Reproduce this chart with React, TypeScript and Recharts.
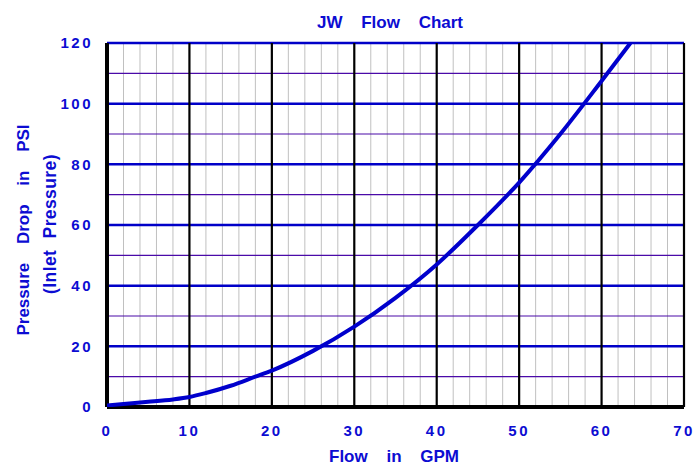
import React from "react";
import { LineChart, Line, XAxis, YAxis, ReferenceLine } from "recharts";

const flowGpm = [0, 2, 5, 8, 10, 12, 15, 18, 20, 25, 30, 35, 40, 45, 50, 55, 60, 63.5];
const pressurePsi = [0.5, 1.0, 1.7, 2.5, 3.3, 4.6, 7.0, 10, 12, 18.5, 26.5, 36, 47, 60, 74, 90, 107.5, 120];

const xTicks = [0, 10, 20, 30, 40, 50, 60, 70];
const yTicks = [0, 20, 40, 60, 80, 100, 120];
const minorX = [2, 4, 6, 8, 12, 14, 16, 18, 22, 24, 26, 28, 32, 34, 36, 38, 42, 44, 46, 48, 52, 54, 56, 58, 62, 64, 66, 68];
const minorY = [10, 30, 50, 70, 90, 110];
const majorX = [10, 20, 30, 40, 50, 60, 70];
const majorY = [20, 40, 60, 80, 100, 120];

const title = "JW Flow Chart";
const xTitle = "Flow in GPM";
const yTitle1 = "Pressure Drop in PSI";
const yTitle2 = "(Inlet Pressure)";

const data = flowGpm.map((x, i) => ({ x, y: pressurePsi[i] }));

const FONT = '"Liberation Sans", Arial, sans-serif';
const BLUE = "#0c0cd2";

const tickStyle = {
  fill: BLUE,
  fontFamily: FONT,
  fontWeight: 700,
  fontSize: 15,
  letterSpacing: 2.5,
};

export default function App() {
  return (
    <div style={{ position: "absolute", left: 0, top: 0, width: 700, height: 466, background: "#fff" }}>
      <LineChart
        width={700}
        height={466}
        data={data}
        margin={{ top: 43, right: 16, bottom: 29, left: 47 }}
      >
        <XAxis
          dataKey="x"
          type="number"
          domain={[0, 70]}
          ticks={xTicks}
          axisLine={false}
          tickLine={false}
          tickSize={0}
          tickMargin={18}
          height={30}
          tick={tickStyle}
          allowDataOverflow
        />
        <YAxis
          type="number"
          domain={[0, 120]}
          ticks={yTicks}
          axisLine={false}
          tickLine={false}
          tickSize={0}
          tickMargin={14}
          width={60}
          tick={tickStyle}
          allowDataOverflow
        />
        {minorX.map((v) => (
          <ReferenceLine key={"mx" + v} x={v} stroke="#c0c0c0" strokeWidth={1} />
        ))}
        {minorY.map((v) => (
          <ReferenceLine key={"my" + v} y={v} stroke="#4a0aa8" strokeWidth={1.2} />
        ))}
        {majorY.map((v) => (
          <ReferenceLine key={"MY" + v} y={v} stroke="#0000c8" strokeWidth={2.5} />
        ))}
        {majorX.map((v) => (
          <ReferenceLine key={"MX" + v} x={v} stroke="#000" strokeWidth={2.2} />
        ))}
        <ReferenceLine y={0} stroke="#000" strokeWidth={4} />
        <ReferenceLine x={0} stroke="#000" strokeWidth={4} />
        <Line
          dataKey="y"
          type="monotone"
          stroke="#0000cc"
          strokeWidth={4}
          dot={false}
          isAnimationActive={false}
        />
      </LineChart>
      <svg
        width={700}
        height={466}
        style={{ position: "absolute", left: 0, top: 0, pointerEvents: "none" }}
      >
        <g fill={BLUE} fontFamily={FONT} fontWeight={700} fontSize={17}>
          <text x={390} y={28} textAnchor="middle" style={{ wordSpacing: 14 }}>{title}</text>
          <text x={394} y={462} textAnchor="middle" style={{ wordSpacing: 14 }}>{xTitle}</text>
          <text transform="translate(29,230) rotate(-90)" textAnchor="middle" style={{ wordSpacing: 14 }}>{yTitle1}</text>
          <text transform="translate(56,224) rotate(-90)" textAnchor="middle" fontSize={17.5} style={{ wordSpacing: 6, letterSpacing: 0.4 }}>{yTitle2}</text>
        </g>
      </svg>
    </div>
  );
}
